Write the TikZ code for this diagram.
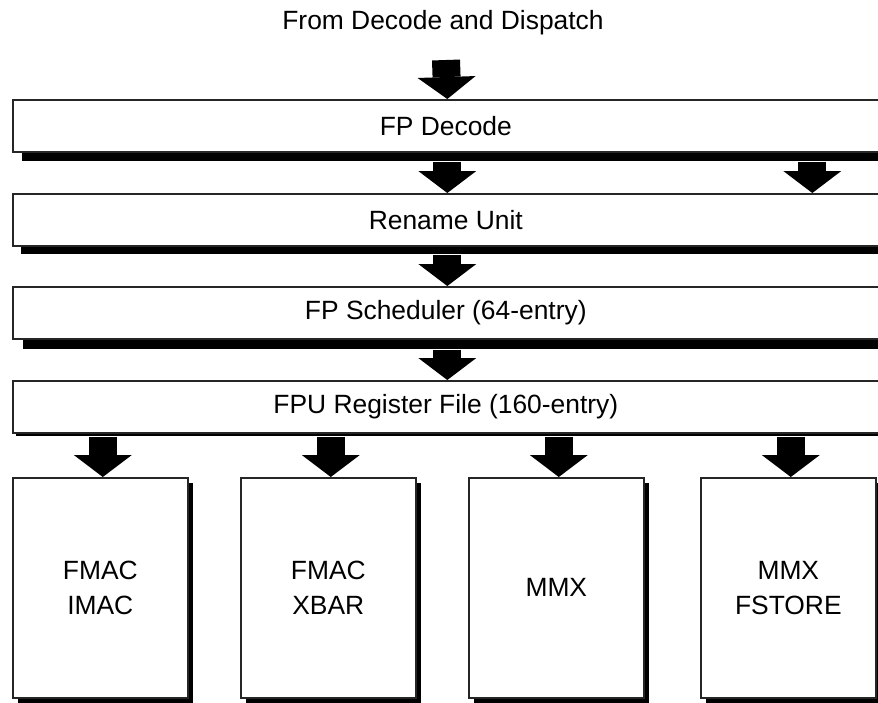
\documentclass[tikz,border=0pt]{standalone}
\usepackage{fontspec}
\setmainfont{Liberation Sans}
\usetikzlibrary{arrows.meta,shadows}
\begin{document}
\begin{tikzpicture}[x=1pt,y=-1pt,
  every node/.style={font=\fontsize{26.4}{35}\selectfont, inner sep=0pt},
  boxline/.style={draw=black!85, line width=1.6pt, fill=white},
  bar/.style={boxline, anchor=north west, minimum width=866pt, minimum height=52pt},
  unit/.style={boxline, anchor=north west, minimum width=175pt, minimum height=220pt, align=center,
    drop shadow={shadow xshift=5pt, shadow yshift=-5pt, fill=black, opacity=1}},
  fat/.style={line width=28pt, -{Triangle[width=58pt,length=22pt,line width=0pt]}},
  shad/.style={drop shadow={shadow xshift=#1, shadow yshift=-#1, fill=black, opacity=1}}
]
\useasboundingbox (0,0) rectangle (878,702);
\fill[white] (0,0) rectangle (878,702);

\node (title) at (443,23) {From Decode and Dispatch};
\coordinate (in) at (446,60);

\node[bar, shad=9pt] (dec) at (12,99) {FP Decode};
\node[bar, shad=8pt] (ren) at (12,193) {Rename Unit};
\node[bar, shad=10pt] (sch) at (12,286) {FP Scheduler (64-entry)};
\node[bar, shad=3pt] (fpu) at (12,380) {FPU Register File (160-entry)};

\node[unit] (u1) at (12,477) {FMAC\\IMAC};
\node[unit] (u2) at (240,477) {FMAC\\XBAR};
\node[unit] (u3) at (468,477) {MMX};
\node[unit] (u4) at (700,477) {MMX\\FSTORE};

\draw[fat] (in) -- ([xshift=1.5pt]dec.north);
\draw[fat] ([xshift=1.5pt,yshift=-9pt]dec.south) -- ([xshift=1.5pt]ren.north);
\draw[fat] ([xshift=366.5pt,yshift=-9pt]dec.south) -- ([xshift=366.5pt]ren.north);
\draw[fat] ([xshift=1.5pt,yshift=-8pt]ren.south) -- ([xshift=1.5pt]sch.north);
\draw[fat] ([xshift=1.5pt,yshift=-10pt]sch.south) -- ([xshift=1.5pt]fpu.north);
\foreach \u in {u1,u2,u3,u4}
  \draw[fat] ([xshift=2.5pt,yshift=-3pt]fpu.south -| \u.north) -- ([xshift=2.5pt]\u.north);
\end{tikzpicture}
\end{document}
